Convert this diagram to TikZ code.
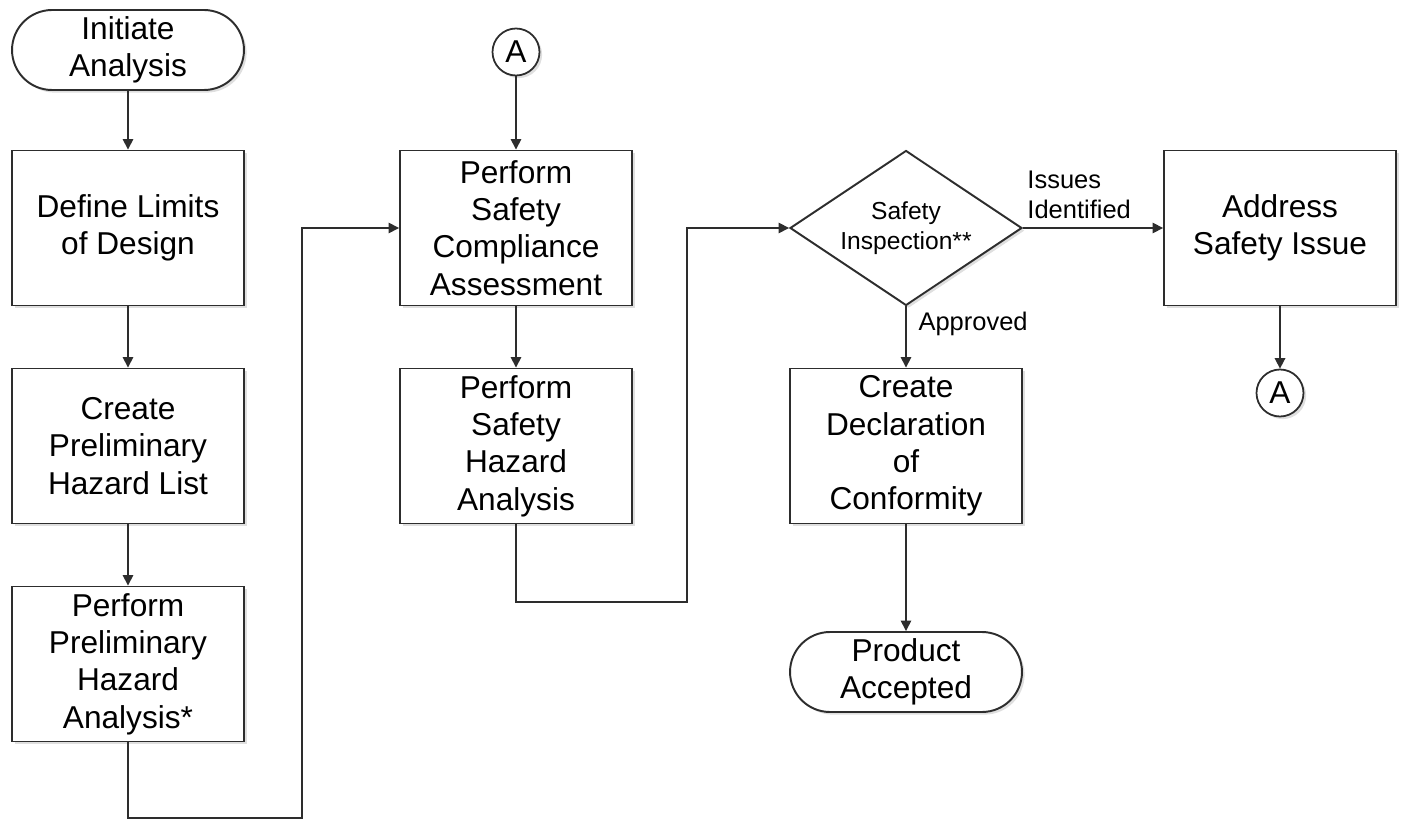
\documentclass[tikz,border=0pt]{standalone}
\usepackage{fontspec}
\setmainfont{Liberation Sans}
\usetikzlibrary{shapes, arrows.meta, positioning, calc, shadows}
\definecolor{lineGray}{RGB}{45,45,45}

\tikzset{
  procbox/.style={draw=lineGray, line width=1.1pt, fill=white, align=center,
    minimum width=4.64cm, minimum height=3.1cm, inner sep=1pt,
    font=\fontsize{18}{21.2}\selectfont,
    drop shadow={shadow xshift=1.5pt, shadow yshift=-1.5pt, opacity=0.25}},
  termbox/.style={procbox, rounded corners=0.8cm, minimum height=1.6cm},
  decision/.style={diamond, aspect=1.5, draw=lineGray, line width=1.1pt, fill=white, align=center,
    minimum width=4.64cm, minimum height=3.1cm, inner sep=0pt,
    font=\fontsize{14}{17}\selectfont,
    drop shadow={shadow xshift=1.5pt, shadow yshift=-1.5pt, opacity=0.25}},
  connector/.style={circle, draw=lineGray, line width=1pt, fill=white,
    minimum size=0.94cm, inner sep=0pt, font=\fontsize{18}{21}\selectfont,
    drop shadow={shadow xshift=1.5pt, shadow yshift=-1.5pt, opacity=0.25}},
  flow/.style={draw=lineGray, line width=0.9pt, -{Triangle[length=6pt,width=6pt]}},
  edgelabel/.style={font=\fontsize{14.5}{17}\selectfont, align=left, inner sep=1pt}
}

\begin{document}
\begin{tikzpicture}[x=0.02cm, y=0.02cm]
  \useasboundingbox (0,0) rectangle (1404,823);

  % Left column
  \node[termbox] (init) at (128,773) {Initiate\\Analysis};
  \node[procbox] (limits) at (128,595) {Define Limits\\of Design};
  \node[procbox] (prelist) at (128,377) {Create\\Preliminary\\Hazard List};
  \node[procbox] (pha) at (128,159) {Perform\\Preliminary\\Hazard\\Analysis*};

  % Middle column
  \node[connector] (topA) at (516,771) {A};
  \node[procbox] (compliance) at (516,595) {Perform\\Safety\\Compliance\\Assessment};
  \node[procbox] (hazard) at (516,377) {Perform\\Safety\\Hazard\\Analysis};

  % Decision column
  \node[decision] (inspect) at (906,595) {Safety\\Inspection**};
  \node[procbox] (declare) at (906,377) {Create\\Declaration\\of\\Conformity};
  \node[termbox] (accepted) at (906,151) {Product\\Accepted};

  % Right column
  \node[procbox] (address) at (1280,595) {Address\\Safety Issue};
  \node[connector] (botA) at (1280,430) {A};

  % Loop corners
  \coordinate (loopA) at (302,5);
  \coordinate (loopB) at (687,221);

  % Connectors
  \draw[flow] (init) -- (limits);
  \draw[flow] (limits) -- (prelist);
  \draw[flow] (prelist) -- (pha);
  \draw[flow] (pha.south) |- (loopA) |- (compliance.west);
  \draw[flow] (topA) -- (compliance);
  \draw[flow] (compliance) -- (hazard);
  \draw[flow] (hazard.south) |- (loopB) |- (inspect.west);
  \draw[flow] (inspect.east) -- node[pos=0, anchor=south west, edgelabel, xshift=0.04cm, yshift=0.14cm] {Issues\\Identified} (address.west);
  \draw[flow] (inspect.south) -- node[pos=0, anchor=north west, edgelabel, xshift=0.2cm, yshift=-0.06cm] {Approved} (declare.north);
  \draw[flow] (declare) -- (accepted);
  \draw[flow] (address) -- (botA);
\end{tikzpicture}
\end{document}
